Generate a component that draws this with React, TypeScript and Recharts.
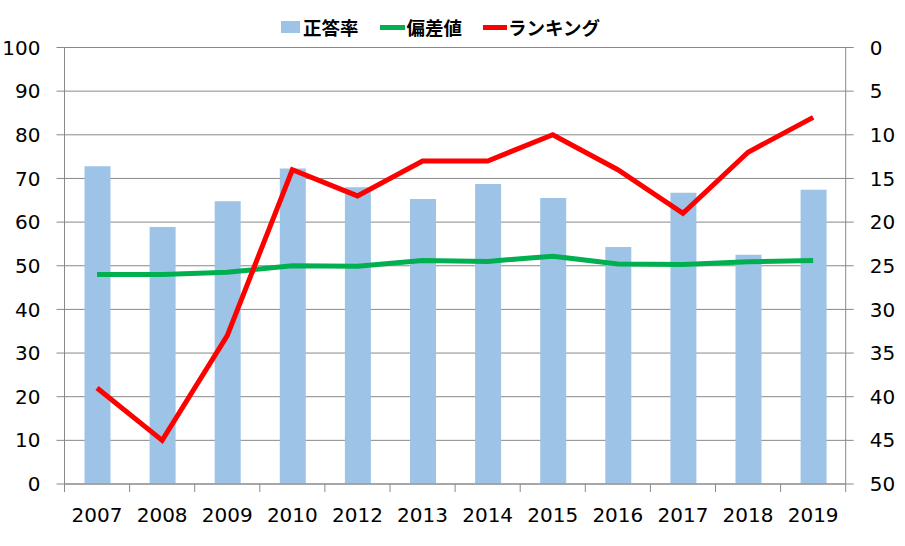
import React from "react";
import {
  ComposedChart,
  Bar,
  Line,
  XAxis,
  YAxis,
  CartesianGrid,
  Legend,
} from "recharts";

const years = ["2007", "2008", "2009", "2010", "2012", "2013", "2014", "2015", "2016", "2017", "2018", "2019"];
const correctRate = [72.8, 58.9, 64.8, 72.3, 68.0, 65.3, 68.7, 65.5, 54.3, 66.7, 52.5, 67.4];
const deviation = [48.0, 48.0, 48.5, 50.0, 49.9, 51.2, 51.0, 52.2, 50.4, 50.3, 50.9, 51.2];
const ranking = [39, 45, 33, 14, 17, 13, 13, 10, 14, 19, 12, 8];
const leftTicks = [0, 10, 20, 30, 40, 50, 60, 70, 80, 90, 100];
const rightTicks = [0, 5, 10, 15, 20, 25, 30, 35, 40, 45, 50];

const data = years.map((y, i) => ({
  year: y,
  rate: correctRate[i],
  dev: deviation[i],
  rank: ranking[i],
}));

const W = 905;
const H = 546;
const LEFT_W = 64.5;
const RIGHT_W = 59.3;
const GRAY = "#898989";
const FONT = "'DejaVu Sans', Verdana, sans-serif";
const band = (W - LEFT_W - RIGHT_W) / years.length;

// Excel style: tick marks sit between the categories
function YearTick(props: any) {
  const { x, y, payload, index } = props;
  const top = y - 24;
  return (
    <g>
      <line x1={x - band / 2} x2={x - band / 2} y1={top} y2={top + 8} stroke={GRAY} />
      {index === years.length - 1 && (
        <line x1={x + band / 2} x2={x + band / 2} y1={top} y2={top + 8} stroke={GRAY} />
      )}
      <text x={x} y={y} dy="0.71em" textAnchor="middle" fill="#000" fontSize={20} fontFamily={FONT}>
        {payload.value}
      </text>
    </g>
  );
}

function LegendBox() {
  const txt: React.CSSProperties = {
    fontFamily: "'Noto Sans CJK JP', sans-serif",
    fontWeight: 700,
    fontSize: 18.5,
    color: "#000",
    lineHeight: "22px",
  };
  return (
    <div style={{ display: "flex", alignItems: "center", whiteSpace: "nowrap" }}>
      <span style={{ width: 19, height: 12, background: "#9DC3E6", marginRight: 3 }} />
      <span style={txt}>正答率</span>
      <span style={{ width: 25, height: 5, background: "#00B050", marginLeft: 21, marginRight: 2 }} />
      <span style={txt}>偏差値</span>
      <span style={{ width: 24, height: 5, background: "#FF0000", marginLeft: 21, marginRight: 1 }} />
      <span style={txt}>ランキング</span>
    </div>
  );
}

export default function App() {
  return (
    <div style={{ position: "absolute", left: 0, top: 0, width: W, height: H, background: "#fff" }}>
      <ComposedChart
        width={W}
        height={H}
        data={data}
        margin={{ top: 25.5, right: 0, left: 0, bottom: 0 }}
      >
        <CartesianGrid yAxisId="left" vertical={false} stroke={GRAY} />
        <XAxis
          dataKey="year"
          height={62}
          stroke={GRAY}
          tickLine={false}
          tickSize={8}
          tickMargin={16}
          tick={<YearTick />}
          interval={0}
        />
        <YAxis
          yAxisId="left"
          domain={[0, 100]}
          ticks={leftTicks}
          width={LEFT_W}
          stroke={GRAY}
          tickSize={8}
          tickMargin={16}
          tick={{ fill: "#000", fontSize: 20, fontFamily: FONT }}
          interval={0}
        />
        <YAxis
          yAxisId="right"
          orientation="right"
          reversed
          domain={[0, 50]}
          ticks={rightTicks}
          width={RIGHT_W}
          stroke={GRAY}
          tickSize={8}
          tickMargin={16}
          tick={{ fill: "#000", fontSize: 20, fontFamily: FONT, textAnchor: "start" }}
          interval={0}
        />
        <Legend
          verticalAlign="top"
          content={<LegendBox />}
          wrapperStyle={{ left: 281, top: 16, width: "auto" }}
        />
        <Bar yAxisId="left" dataKey="rate" name="正答率" fill="#9DC3E6" barSize={26} isAnimationActive={false} />
        <Line yAxisId="left" dataKey="dev" name="偏差値" stroke="#00B050" strokeWidth={5} dot={false} isAnimationActive={false} />
        <Line yAxisId="right" dataKey="rank" name="ランキング" stroke="#FF0000" strokeWidth={5} dot={false} isAnimationActive={false} />
      </ComposedChart>
    </div>
  );
}
